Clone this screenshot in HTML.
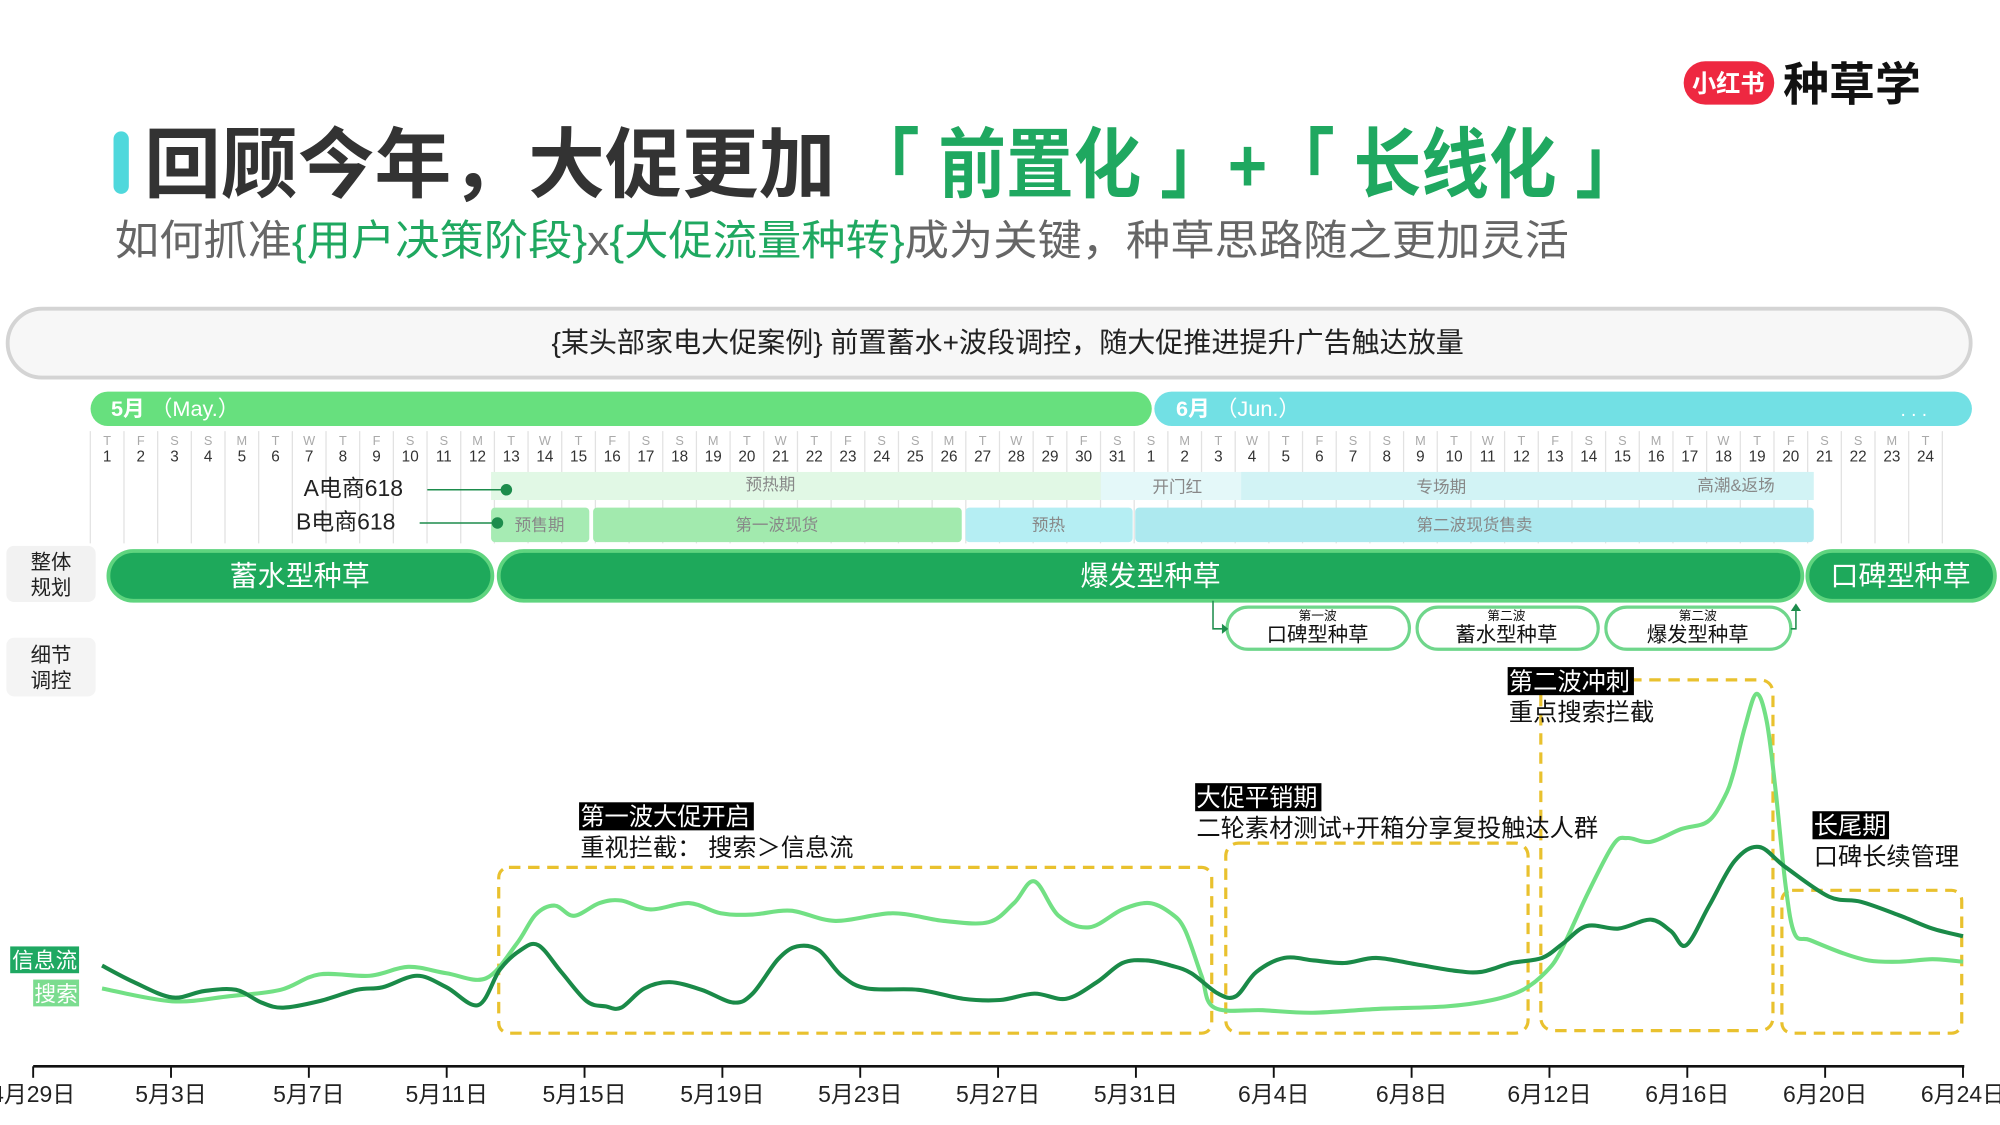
<!DOCTYPE html>
<html><head><meta charset="utf-8">
<style>
html,body{margin:0;padding:0;background:#fff;}
svg{display:block;font-family:"Liberation Sans","Noto Sans CJK SC",sans-serif;}
</style></head>
<body>
<svg id="s" width="2000" height="1125" viewBox="0 0 1568 882" preserveAspectRatio="none" xmlns="http://www.w3.org/2000/svg">
<rect width="1568" height="882" fill="#fff"/>
<!-- logo -->
<rect x="1320" y="48" width="71" height="34" rx="17" fill="#ee2841"/>
<text x="1355" y="72" font-size="19" font-weight="bold" fill="#fff" text-anchor="middle">小红书</text>
<text x="1398" y="79" font-size="36" font-weight="bold" fill="#111">种草学</text>
<!-- title -->
<rect x="89" y="103" width="12" height="49" rx="6" fill="#4fd8dc"/>
<text x="113" y="150" font-size="60" font-weight="bold" fill="#333" textLength="542" lengthAdjust="spacingAndGlyphs">回顾今年，大促更加</text>
<text x="668" y="150" font-size="60" font-weight="bold" fill="#1fa860" textLength="620" lengthAdjust="spacingAndGlyphs">「 前置化 」+「 长线化 」</text>
<text x="90" y="200" font-size="33" fill="#666" textLength="1140" lengthAdjust="spacingAndGlyphs">如何抓准<tspan fill="#1fa860">{用户决策阶段}</tspan>x<tspan fill="#1fa860">{大促流量种转}</tspan>成为关键，种草思路随之更加灵活</text>
<!-- case pill -->
<rect x="6" y="242" width="1539" height="54" rx="27" fill="#f7f7f7" stroke="#d4d4d4" stroke-width="3"/>
<text x="790" y="276" font-size="22" fill="#222" text-anchor="middle">{某头部家电大促案例} 前置蓄水+波段调控，随大促推进提升广告触达放量</text>
<!-- months -->
<rect x="71" y="307" width="832" height="27" rx="13.5" fill="#67e07e"/>
<text x="87" y="326" font-size="17" fill="#fff" font-weight="bold">5月 <tspan font-weight="normal">  （May.）</tspan></text>
<rect x="905" y="307" width="641" height="27" rx="13.5" fill="#72e0e4"/>
<text x="922" y="326" font-size="17" fill="#fff" font-weight="bold">6月 <tspan font-weight="normal">  （Jun.）</tspan></text>
<text x="1490" y="326" font-size="15" fill="#fff">. . .</text>
<g id="cols"></g>
<!-- A row -->
<rect x="385" y="370" width="478" height="22" fill="#e1f8e5"/>
<rect x="863" y="370" width="110" height="22" fill="#e4f8f9"/>
<rect x="973" y="370" width="449" height="22" fill="#d2f3f5"/>
<g font-size="13" fill="#888" text-anchor="middle">
<text x="604" y="384">预热期</text><text x="923" y="386">开门红</text><text x="1130" y="386">专场期</text><text x="1361" y="385">高潮&amp;返场</text>
</g>
<!-- B row -->
<rect x="385" y="398" width="77" height="27" rx="3" fill="#a6ebb3"/>
<rect x="465" y="398" width="289" height="27" rx="3" fill="#a2eaae"/>
<rect x="757" y="398" width="131" height="27" rx="3" fill="#b5eef3"/>
<rect x="890" y="398" width="532" height="27" rx="3" fill="#ade9ef"/>
<g font-size="13" fill="#888" text-anchor="middle">
<text x="423" y="416">预售期</text><text x="609" y="416">第一波现货</text><text x="822" y="416">预热</text><text x="1156" y="416">第二波现货售卖</text>
</g>
<text x="316" y="389" font-size="18" fill="#222" text-anchor="end">A电商618</text>
<line x1="335" y1="384" x2="397" y2="384" stroke="#1d8c4c" stroke-width="1.2"/><circle cx="397" cy="384" r="4.5" fill="#1d8c4c"/>
<text x="310" y="415" font-size="18" fill="#222" text-anchor="end">B电商618</text>
<line x1="329" y1="410" x2="390" y2="410" stroke="#1d8c4c" stroke-width="1.2"/><circle cx="390" cy="410" r="4.5" fill="#1d8c4c"/>
<!-- labels -->
<rect x="5" y="428" width="70" height="44" rx="6" fill="#f2f2f2"/>
<text x="40" y="446" font-size="16" fill="#222" text-anchor="middle">整体</text><text x="40" y="466" font-size="16" fill="#222" text-anchor="middle">规划</text>
<rect x="5" y="500" width="70" height="46" rx="6" fill="#f4f4f4"/>
<text x="40" y="519" font-size="16" fill="#222" text-anchor="middle">细节</text><text x="40" y="539" font-size="16" fill="#222" text-anchor="middle">调控</text>
<!-- main pills -->
<g stroke="#5fd47f" stroke-width="3" fill="#1ea95b">
<rect x="85" y="432" width="301" height="39" rx="19.5"/>
<rect x="391" y="432" width="1022" height="39" rx="19.5"/>
<rect x="1417" y="432" width="147" height="39" rx="19.5"/>
</g>
<g font-size="22" fill="#fff" text-anchor="middle">
<text x="235" y="459">蓄水型种草</text><text x="902" y="459">爆发型种草</text><text x="1490" y="459">口碑型种草</text>
</g>
<!-- sub pills -->
<g stroke="#6fd68b" stroke-width="2.5" fill="#fff">
<rect x="962" y="476" width="143" height="33" rx="16.5"/>
<rect x="1111" y="476" width="142" height="33" rx="16.5"/>
<rect x="1259" y="476" width="145" height="33" rx="16.5"/>
</g>
<g text-anchor="middle" fill="#111">
<text x="1033" y="486" font-size="10">第一波</text><text x="1033" y="503" font-size="16">口碑型种草</text>
<text x="1181" y="486" font-size="10">第二波</text><text x="1181" y="503" font-size="16">蓄水型种草</text>
<text x="1331" y="486" font-size="10">第二波</text><text x="1331" y="503" font-size="16">爆发型种草</text>
</g>
<polyline points="951,471 951,493 958,493" fill="none" stroke="#1d8c4c" stroke-width="1.2"/>
<polygon points="958,489 963,493 958,497" fill="#1d8c4c"/>
<polyline points="1404,493 1408,493 1408,477" fill="none" stroke="#1d8c4c" stroke-width="1.2"/>
<polygon points="1404,479 1408,473 1412,479" fill="#1d8c4c"/>
<!-- dashed boxes -->
<g fill="none" stroke="#e9c12e" stroke-width="2.5" stroke-dasharray="9,6">
<rect x="391" y="680" width="559" height="130" rx="8"/>
<rect x="961" y="661" width="237" height="149" rx="10"/>
<rect x="1208" y="533" width="182" height="275" rx="10"/>
<rect x="1397" y="698" width="141" height="112" rx="8"/>
</g>
<!-- lines -->
<path id="lt" fill="none" stroke="#72e084" stroke-width="3.2" stroke-linejoin="round"/>
<path id="dk" fill="none" stroke="#1a8a48" stroke-width="3.2" stroke-linejoin="round"/>
<!-- annotations -->
<rect x="454" y="629" width="137" height="22" fill="#000"/>
<text x="455" y="647" font-size="19" fill="#fff">第一波大促开启</text>
<text x="455" y="671" font-size="19" fill="#111">重视拦截：  搜索＞信息流</text>
<rect x="937" y="614" width="99" height="22" fill="#000"/>
<text x="938" y="632" font-size="19" fill="#fff">大促平销期</text>
<text x="938" y="656" font-size="19" fill="#111">二轮素材测试+开箱分享复投触达人群</text>
<rect x="1182" y="523" width="99" height="22" fill="#000"/>
<text x="1183" y="541" font-size="19" fill="#fff">第二波冲刺</text>
<text x="1183" y="565" font-size="19" fill="#111">重点搜索拦截</text>
<rect x="1421" y="636" width="60" height="22" fill="#000"/>
<text x="1422" y="654" font-size="19" fill="#fff">长尾期</text>
<text x="1422" y="678" font-size="19" fill="#111">口碑长续管理</text>
<!-- legend -->
<rect x="8" y="742" width="54" height="21" fill="#1fa862"/>
<text x="35" y="759" font-size="17" fill="#fff" text-anchor="middle">信息流</text>
<rect x="26" y="768" width="36" height="21" fill="#7bdc8f"/>
<text x="44" y="785" font-size="17" fill="#fff" text-anchor="middle">搜索</text>
<!-- axis -->
<line x1="26" y1="836" x2="1540" y2="836" stroke="#111" stroke-width="2"/>
<g id="ticks"></g>
</svg>
<script>
var NS="http://www.w3.org/2000/svg",s=document.getElementById('s');
function el(t,a,p,txt){var e=document.createElementNS(NS,t);for(var k in a)e.setAttribute(k,a[k]);if(txt!=null)e.textContent=txt;(p||s).appendChild(e);return e;}
var cols=document.getElementById('cols'),L=['T','F','S','S','M','T','W'];
for(var i=0;i<55;i++){var cx=84+26.4*i,day=i<31?i+1:i-30;
 el('line',{x1:cx-13.2,y1:338,x2:cx-13.2,y2:426,stroke:'#e2e2e2','stroke-width':1},cols);
 el('text',{x:cx,y:349,'font-size':10,fill:'#aaa','text-anchor':'middle'},cols,L[i%7]);
 el('text',{x:cx,y:362,'font-size':12,fill:'#333','text-anchor':'middle'},cols,''+day);}
el('line',{x1:84+26.4*54.5,y1:338,x2:84+26.4*54.5,y2:426,stroke:'#e2e2e2','stroke-width':1},cols);
var tk=document.getElementById('ticks'),labs=['4月29日','5月3日','5月7日','5月11日','5月15日','5月19日','5月23日','5月27日','5月31日','6月4日','6月8日','6月12日','6月16日','6月20日','6月24日'];
for(var j=0;j<15;j++){var x=26+108.07*j;el('line',{x1:x,y1:836,x2:x,y2:845,stroke:'#111','stroke-width':1.5},tk);
 el('text',{x:x,y:864,'font-size':18,fill:'#222','text-anchor':'middle'},tk,labs[j]);}
function cr(p){var d='M'+p[0][0]+','+p[0][1];for(var i=0;i<p.length-1;i++){var p0=p[i?i-1:0],p1=p[i],p2=p[i+1],p3=p[i+2<p.length?i+2:i+1];
 d+=' C'+(p1[0]+(p2[0]-p0[0])/6)+','+(p1[1]+(p2[1]-p0[1])/6)+' '+(p2[0]-(p3[0]-p1[0])/6)+','+(p2[1]-(p3[1]-p1[1])/6)+' '+p2[0]+','+p2[1];}return d;}
var lt=[[80,775],[135,785],[180,781],[220,776],[250,764],[290,765],[320,758],[350,763],[381,767],[405,740],[420,717],[435,710],[450,718],[470,708],[487,706],[510,713],[540,708],[565,716],[590,717],[620,714],[655,722],[700,716],[740,722],[775,723],[795,708],[811,691],[830,718],[854,727],[880,713],[901,708],[918,716],[929,729],[942,765],[952,790],[990,792],[1029,794],[1080,791],[1134,789],[1170,784],[1194,776],[1212,762],[1224,745],[1245,700],[1265,662],[1276,657],[1294,660],[1318,650],[1339,644],[1352,625],[1359,606],[1368,570],[1377,544],[1385,565],[1392,619],[1400,695],[1407,732],[1419,737],[1444,747],[1465,753],[1489,754],[1515,752],[1539,754]];
var dk=[[80,757],[105,770],[135,782],[160,777],[185,776],[205,786],[222,790],[250,785],[280,776],[300,774],[327,765],[350,774],[375,788],[392,760],[408,745],[422,741],[440,762],[460,785],[475,789],[487,790],[505,775],[525,770],[550,776],[575,786],[590,779],[610,752],[625,742],[642,745],[660,765],[680,775],[720,776],[755,783],[784,784],[811,779],[836,783],[860,770],[880,755],[899,753],[918,757],[934,763],[955,779],[969,781],[985,762],[1007,751],[1030,753],[1054,755],[1079,751],[1110,756],[1140,761],[1161,762],[1185,755],[1209,751],[1225,740],[1244,726],[1269,728],[1294,721],[1310,730],[1322,741],[1340,710],[1360,675],[1379,664],[1400,680],[1434,703],[1459,707],[1490,718],[1515,728],[1539,734]];
document.getElementById('lt').setAttribute('d',cr(lt));
document.getElementById('dk').setAttribute('d',cr(dk));
</script>
</body></html>
